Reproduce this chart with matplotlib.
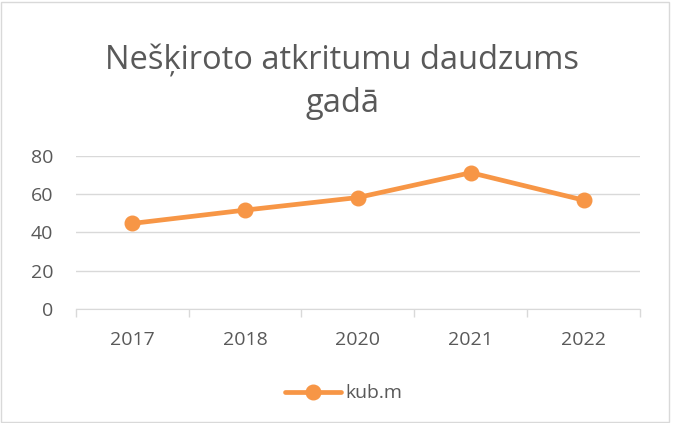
import matplotlib
matplotlib.use("Agg")
from matplotlib import pyplot as plt
from matplotlib.patches import Rectangle

years = ["2017", "2018", "2020", "2021", "2022"]
values = [44.7, 51.7, 58.3, 71.3, 56.9]
series_name = "kub.m"
title = "Nešķiroto atkritumu daudzums\ngadā"

plt.rcParams["font.family"] = ["Open Sans", "DejaVu Sans"]
text_color = "#595959"
grid_color = "#d9d9d9"
line_color = "#F79646"

fig = plt.figure(figsize=(6.76, 4.23), dpi=100)
ax = fig.add_axes([0.112, 0.270, 0.835, 0.361])

x = list(range(len(years)))
ax.plot(x, values, color=line_color, linewidth=3.4, marker="o", markersize=10.5,
        label=series_name, solid_capstyle="round")

ax.set_xlim(-0.5, len(years) - 0.5)
ax.set_ylim(0, 80)
ax.set_yticks([0, 20, 40, 60, 80])
ax.set_xticks(x)
ax.set_xticklabels(years)
ax.set_xticks([i - 0.5 for i in range(len(years) + 1)], minor=True)
ax.tick_params(axis="x", which="major", length=0, pad=16, labelsize=14, labelcolor=text_color)
ax.tick_params(axis="x", which="minor", length=6, color=grid_color, width=1)
ax.tick_params(axis="y", length=0, pad=16, labelsize=14, labelcolor=text_color)
ax.grid(True, axis="y", color=grid_color, linewidth=1)
ax.set_axisbelow(True)
for side in ["top", "right", "left"]:
    ax.spines[side].set_visible(False)
ax.spines["bottom"].set_color(grid_color)

fig.text(0.506, 0.805, title, ha="center", va="center", fontsize=23.5,
         color=text_color, linespacing=1.4)

leg = fig.legend(loc="center", bbox_to_anchor=(0.508, 0.07), frameon=False,
                 fontsize=14, handlelength=2.9, handletextpad=0.2)
for t in leg.get_texts():
    t.set_color(text_color)

fig.patches.append(Rectangle((0.002, 0.003), 0.988, 0.992, transform=fig.transFigure,
                             fill=False, edgecolor=grid_color, linewidth=1))

fig.savefig("out.png", dpi=100, facecolor="white")
